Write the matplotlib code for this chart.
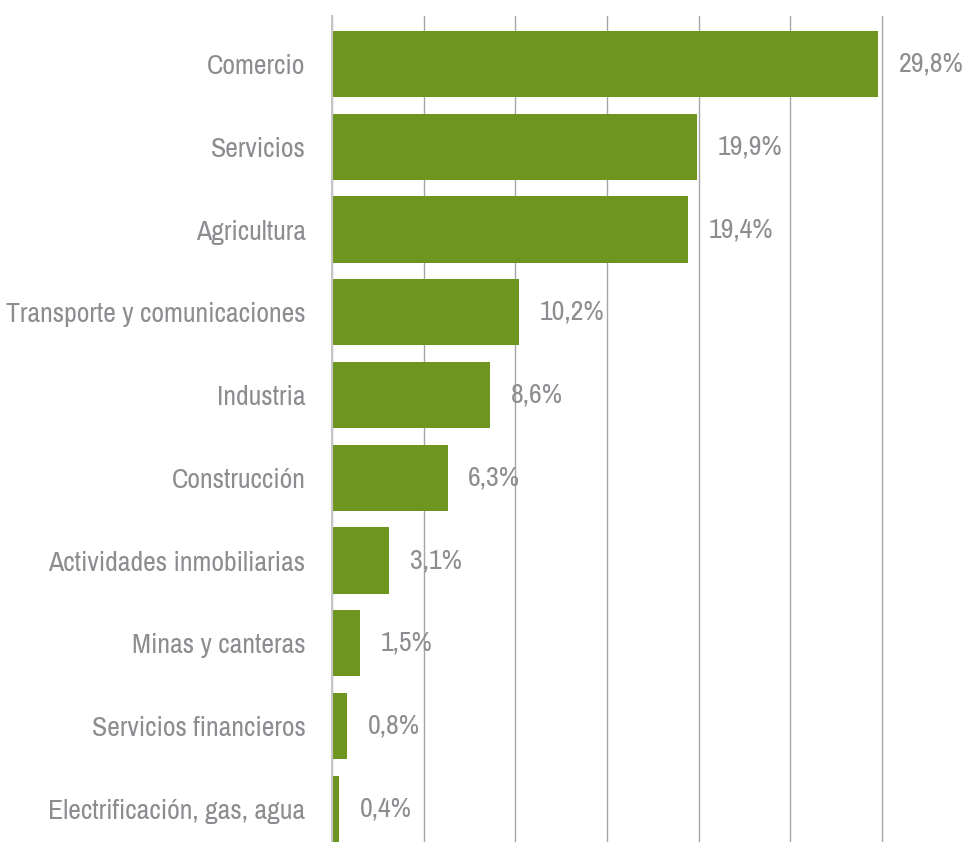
import matplotlib
matplotlib.use("Agg")
import matplotlib.pyplot as plt

sectors = ["Comercio", "Servicios", "Agricultura", "Transporte y comunicaciones",
           "Industria", "Construcción", "Actividades inmobiliarias",
           "Minas y canteras", "Servicios financieros", "Electrificación, gas, agua"]
shares = [29.8, 19.9, 19.4, 10.2, 8.6, 6.3, 3.1, 1.5, 0.8, 0.4]

GREEN = "#6f9521"
GREY = "#8d8d91"

plt.rcParams['font.family'] = ['Archivo Narrow', 'DejaVu Sans']

fig = plt.figure(figsize=(9.65, 8.42), dpi=100)
# axes: x=0 at 332 px, x=30 at 882 px; a little slack so the 30 gridline is not clipped
ax = fig.add_axes([332 / 965, 0, 552 / 965, 1 - 16 / 842])

pos = list(range(len(sectors)))
ax.barh(pos, shares, height=0.8, color=GREEN, zorder=3)

for y, v in zip(pos, shares):
    ax.annotate(f"{v:.1f}%".replace(".", ","), (v, y), xytext=(15, 0),
                textcoords="offset points", va="center", ha="left",
                fontsize=20, color=GREY)

ax.set_xlim(0, 30 * 552 / 550)
ax.set_ylim(9.4, -0.58)
ax.set_xticks(range(0, 31, 5))
ax.set_yticks(pos)
ax.set_yticklabels(sectors, fontsize=20, color=GREY)
ax.tick_params(axis="y", length=0, pad=19)
ax.tick_params(axis="x", length=0, labelbottom=False)
ax.grid(axis="x", color="#a6a6a6", linewidth=1, zorder=0)
for s in ["top", "right", "bottom"]:
    ax.spines[s].set_visible(False)
ax.spines["left"].set_color("#c6c6c6")
ax.spines["left"].set_linewidth(1.5)
ax.spines["left"].set_zorder(4)

fig.savefig("out.png", dpi=100)
